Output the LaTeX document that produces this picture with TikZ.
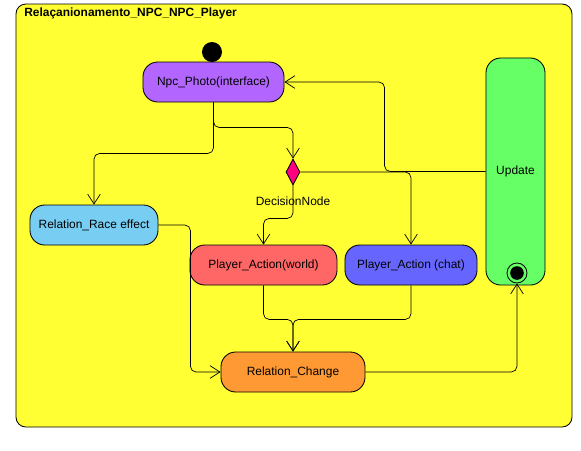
\documentclass[tikz,border=0pt]{standalone}
\usepackage{fontspec}
\setmainfont{Liberation Sans}
\usetikzlibrary{arrows.meta,shapes.geometric}
\definecolor{frame}{HTML}{FFFF33}
\definecolor{violet}{HTML}{B266FF}
\definecolor{mint}{HTML}{66FF66}
\definecolor{pinkdec}{HTML}{FF0080}
\definecolor{sky}{HTML}{78CEF2}
\definecolor{salmon}{HTML}{FF6666}
\definecolor{indigo}{HTML}{6666FF}
\definecolor{amber}{HTML}{FF9933}
\tikzset{
  font=\fontsize{8.5}{10}\selectfont,
  >={Straight Barb[length=7pt,width=9pt]},
  act/.style={draw, line width=0.6pt, rounded corners=10.5pt, minimum height=1cm, inner sep=0pt},
  flow/.style={->, line width=0.5pt, rounded corners=4pt},
}

\begin{document}
\begin{tikzpicture}[x=0.025cm, y=-0.025cm]
\useasboundingbox (0,0) rectangle (581,450);

% ---------------- frame ----------------
\draw[fill=frame, line width=0.6pt, rounded corners=7pt] (16,4) rectangle (572,427);
\node[font=\fontsize{8.5}{10}\selectfont\bfseries, anchor=west, inner sep=0pt] (title) at (24,13) {Relaçanionamento\_NPC\_NPC\_Player};

% ---------------- nodes ----------------
\node[circle, fill=black, minimum size=0.5cm, inner sep=0pt] (start) at (212,52) {};
\node[act, fill=violet, minimum width=3.525cm] (photo) at (213.5,82) {Npc\_Photo(interface)};
\node[act, fill=mint, minimum width=1.475cm, minimum height=5.675cm] (upd) at (515.5,171.5) {Update};
\node[circle, draw, line width=0.6pt, fill=mint, minimum size=0.5cm, inner sep=0pt] (end) at (517,273) {};
\fill (end) circle (0.17cm);
\node[diamond, draw, fill=pinkdec, line width=0.6pt, aspect=0.5, minimum width=0.35cm, minimum height=0.65cm, inner sep=0pt] (dec) at (293,172) {};
\node[inner sep=1pt] (declab) at (293,201) {DecisionNode};
\node[act, fill=sky, minimum width=3.2cm] (race) at (94,225) {Relation\_Race effect};
\node[act, fill=salmon, minimum width=3.675cm] (world) at (263.5,265) {Player\_Action(world)};
\node[act, fill=indigo, minimum width=3.3cm] (chat) at (411,265) {Player\_Action (chat)};
\node[act, fill=amber, minimum width=3.6cm] (change) at (293,372) {Relation\_Change};

% ---------------- connectors ----------------
\draw[line width=0.5pt] (start) -- (photo.north);
\draw[flow] (photo.south) -- ++(0,25) -| (dec.north);
\draw[flow] (photo.south) -- ++(0,51) -| (race.north);
\draw[flow] (dec.south) -- ++(0,33) -| (world.north);
\draw[flow] (dec.east) -| (chat.north);
\draw[flow] (upd.west) -- ++(-101,0) |- (photo.east);
\draw[flow] (race.east) -- ++(32,0) |- (change.west);
\draw[flow] (world.south) -- ++(0,34) -| (change.north);
\draw[flow] (chat.south) -- ++(0,34) -| (change.north);
\draw[flow] (change.east) -| (end.south);

\end{tikzpicture}
\end{document}
